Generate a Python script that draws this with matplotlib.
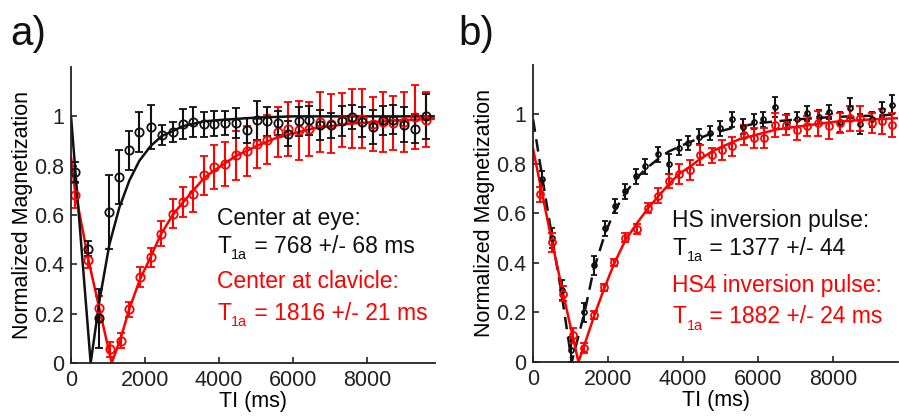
import matplotlib
matplotlib.use("Agg")
import matplotlib.pyplot as plt

# -----------------------------
# STYLE
# -----------------------------
plt.rcParams["font.family"] = ["Liberation Sans", "DejaVu Sans"]

RED = "#ff0000"
BLACK = "#111111"

# -----------------------------
# DATA
# -----------------------------
# panel a) - center at eye (black)
a_eye_ti = [110, 470, 766, 1036, 1306, 1577, 1847, 2153, 2450, 2748, 3018, 3306,
            3595, 3865, 4162, 4459, 4748, 5018, 5306, 5604, 5874, 6171, 6441, 6730,
            7018, 7315, 7586, 7856, 8153, 8423, 8712, 9000, 9297, 9586]
a_eye_m = [0.775, 0.464, 0.181, 0.613, 0.754, 0.862, 0.937, 0.957, 0.923, 0.937, 0.970, 0.977,
           0.968, 0.970, 0.973, 0.973, 0.943, 0.984, 0.980, 0.973, 0.930, 0.980, 0.984, 0.964,
           0.964, 0.981, 0.997, 0.977, 0.957, 0.984, 0.987, 0.966, 0.950, 1.000]
a_eye_err = [0.04, 0.03, 0.12, 0.15, 0.11, 0.08, 0.08, 0.09, 0.04, 0.04, 0.06, 0.06,
             0.05, 0.05, 0.05, 0.06, 0.05, 0.08, 0.06, 0.05, 0.05, 0.06, 0.06, 0.06,
             0.05, 0.06, 0.05, 0.06, 0.07, 0.06, 0.06, 0.07, 0.06, 0.09]
a_eye_fit_ti = [0, 531, 766, 1036, 1306, 1577, 1847, 2153, 2450, 2748, 3018, 3306,
                3600, 4000, 4500, 5000, 6000, 7000, 8000, 9000, 9800]
a_eye_fit_m = [1.0, 0.0, 0.25, 0.48, 0.63, 0.74, 0.82, 0.88, 0.92, 0.94, 0.96, 0.97,
               0.98, 0.985, 0.99, 0.995, 1.0, 1.0, 1.0, 1.0, 1.0]

# panel a) - center at clavicle (red)
a_clav_ti = [108, 468, 766, 1054, 1342, 1577, 1865, 2153, 2423, 2748, 3018, 3306,
             3595, 3865, 4162, 4459, 4748, 5018, 5306, 5604, 5874, 6171, 6441, 6730,
             7018, 7315, 7586, 7856, 8153, 8423, 8712, 9000, 9297, 9586]
a_clav_m = [0.680, 0.417, 0.221, 0.055, 0.090, 0.217, 0.350, 0.428, 0.525, 0.606, 0.653, 0.684,
            0.761, 0.795, 0.806, 0.842, 0.860, 0.889, 0.906, 0.937, 0.950, 0.943, 0.950, 0.977,
            0.970, 0.984, 0.990, 0.990, 0.970, 0.977, 0.973, 0.977, 0.997, 0.987]
a_clav_err = [0.05, 0.03, 0.05, 0.03, 0.03, 0.03, 0.04, 0.04, 0.05, 0.06, 0.06, 0.07,
              0.08, 0.09, 0.09, 0.10, 0.10, 0.10, 0.10, 0.10, 0.11, 0.12, 0.11, 0.12,
              0.12, 0.11, 0.12, 0.12, 0.11, 0.12, 0.11, 0.12, 0.13, 0.11]
a_clav_fit_ti = [0, 108, 468, 766, 1099, 1342, 1577, 1865, 2153, 2423, 2748, 3018, 3306,
                 3595, 3865, 4162, 4459, 4748, 5018, 5500, 6000, 6500, 7000, 7500, 8000,
                 8500, 9000, 9800]
a_clav_fit_m = [0.835, 0.70, 0.42, 0.22, 0.0, 0.10, 0.22, 0.34, 0.43, 0.52, 0.60, 0.65, 0.70,
                0.75, 0.78, 0.81, 0.84, 0.86, 0.88, 0.91, 0.93, 0.95, 0.96, 0.97, 0.975,
                0.98, 0.985, 0.99]

# panel b) - HS inversion pulse (black, dashed fit)
b_hs_ti = [230, 500, 765, 1000, 1370, 1610, 1920, 2170, 2450, 2740, 2990, 3330,
           3610, 3890, 4140, 4410, 4720, 4990, 5300, 5600, 5880, 6140, 6450, 6770,
           7030, 7300, 7610, 7880, 8190, 8450, 8720, 9030, 9300, 9570]
b_hs_m = [0.74, 0.50, 0.29, 0.05, 0.20, 0.39, 0.54, 0.63, 0.69, 0.75, 0.79, 0.84,
          0.80, 0.865, 0.885, 0.91, 0.925, 0.945, 0.98, 0.95, 0.97, 0.98, 1.03, 0.97,
          0.98, 1.005, 0.99, 1.01, 0.97, 1.025, 0.96, 0.98, 1.02, 1.04]
b_hs_err = [0.03, 0.04, 0.04, 0.05, 0.04, 0.04, 0.03, 0.03, 0.03, 0.03, 0.03, 0.03,
            0.04, 0.03, 0.03, 0.03, 0.03, 0.03, 0.03, 0.03, 0.03, 0.03, 0.04, 0.03,
            0.03, 0.03, 0.03, 0.03, 0.04, 0.04, 0.04, 0.03, 0.03, 0.04]
b_hs_fit_ti = [0, 250, 500, 765, 1030, 1370, 1610, 1920, 2170, 2450, 2740, 3000, 3330,
               3610, 3890, 4200, 4700, 5300, 6000, 7000, 8000, 9000, 9750]
b_hs_fit_m = [0.98, 0.74, 0.51, 0.27, 0.0, 0.20, 0.37, 0.52, 0.61, 0.68, 0.74, 0.78, 0.82,
              0.85, 0.87, 0.89, 0.92, 0.945, 0.965, 0.98, 0.99, 0.995, 1.0]

# panel b) - HS4 inversion pulse (red, solid fit)
b_hs4_ti = [187, 498, 809, 1076, 1369, 1636, 1902, 2169, 2453, 2765, 3058, 3342,
            3627, 3893, 4187, 4453, 4765, 5032, 5299, 5609, 5876, 6142, 6453, 6747,
            7032, 7299, 7582, 7876, 8169, 8436, 8720, 9032, 9299, 9565]
b_hs4_m = [0.677, 0.483, 0.276, 0.108, 0.055, 0.189, 0.302, 0.403, 0.503, 0.537, 0.621, 0.671,
           0.731, 0.760, 0.775, 0.835, 0.835, 0.858, 0.871, 0.918, 0.905, 0.905, 0.958, 0.958,
           0.938, 0.952, 0.965, 0.952, 0.965, 0.985, 0.985, 0.965, 0.972, 0.958]
b_hs4_err = [0.03, 0.04, 0.03, 0.03, 0.02, 0.015, 0.015, 0.015, 0.02, 0.02, 0.02, 0.03,
             0.03, 0.04, 0.04, 0.04, 0.03, 0.04, 0.04, 0.04, 0.04, 0.04, 0.05, 0.04,
             0.04, 0.04, 0.05, 0.05, 0.04, 0.05, 0.05, 0.04, 0.05, 0.05]
b_hs4_fit_ti = [0, 187, 498, 809, 1076, 1209, 1369, 1636, 1902, 2169, 2453, 2765, 3058,
                3342, 3627, 3893, 4187, 4453, 4765, 5032, 5500, 6000, 6500, 7000, 7500,
                8000, 8500, 9000, 9700]
b_hs4_fit_m = [0.86, 0.72, 0.49, 0.27, 0.09, 0.0, 0.07, 0.19, 0.30, 0.40, 0.49, 0.56, 0.62,
               0.67, 0.72, 0.76, 0.79, 0.82, 0.85, 0.87, 0.90, 0.92, 0.94, 0.95, 0.96,
               0.97, 0.975, 0.98, 0.985]

Y_TICKS = [0, 0.2, 0.4, 0.6, 0.8, 1]
Y_TICK_LABELS = ["0", "0.2", "0.4", "0.6", "0.8", "1"]
X_TICKS = [0, 2000, 4000, 6000, 8000]

# -----------------------------
# FIGURE
# -----------------------------
fig = plt.figure(figsize=(8.99, 4.18), dpi=100)
ax_a = fig.add_axes([0.079, 0.1316, 0.405, 0.708])
ax_b = fig.add_axes([0.593, 0.134, 0.406, 0.7105])


def style_axes(ax, xmax, ylab_x):
    ax.set_xlim(0, xmax)
    ax.set_ylim(0, 1.2)
    ax.set_xticks(X_TICKS)
    ax.set_xticklabels([str(t) for t in X_TICKS])
    ax.set_yticks(Y_TICKS)
    ax.set_yticklabels(Y_TICK_LABELS)
    ax.spines["top"].set_visible(False)
    ax.spines["right"].set_visible(False)
    for s in ("left", "bottom"):
        ax.spines[s].set_linewidth(1.3)
        ax.spines[s].set_color("#222222")
    ax.tick_params(direction="in", length=4, width=1.2, labelsize=15.5,
                   colors="#222222", labelcolor="#222222")
    ax.tick_params(axis="x", pad=5)
    ax.tick_params(axis="y", pad=5)
    ax.set_xlabel("TI (ms)", fontsize=15.5, labelpad=0)
    ax.set_ylabel("Normalized Magnetization", fontsize=15.5)
    ax.yaxis.set_label_coords(ylab_x, 0.5)


def draw_series(ax, ti, m, err, fit_ti, fit_m, color, ms, cap, dashed=False):
    line, = ax.plot(fit_ti, fit_m, color=color, lw=1.8)
    if dashed:
        line.set_dashes((5, 3))
    ax.errorbar(ti, m, yerr=err, fmt="o", color=color, mfc="none", mec=color,
                ms=ms, mew=1.3, elinewidth=1.5, capsize=cap, capthick=1.5)


def t1a_line(ax, x, y, rest, color, size=16.5):
    # "T" + lowered small "1a" + rest of the line
    ax.text(x, y, "T", transform=ax.transAxes, fontsize=size, color=color)
    ax.annotate("1a", xy=(x, y), xycoords=ax.transAxes, xytext=(0.62 * size, -4.5),
                textcoords="offset points", fontsize=size * 0.62, color=color)
    ax.annotate(rest, xy=(x, y), xycoords=ax.transAxes,
                xytext=(0.62 * size + 1.15 * 0.62 * size, 0),
                textcoords="offset points", fontsize=size, color=color)


# panel a
draw_series(ax_a, a_clav_ti, a_clav_m, a_clav_err, a_clav_fit_ti, a_clav_fit_m, RED, 6, 3.2)
draw_series(ax_a, a_eye_ti, a_eye_m, a_eye_err, a_eye_fit_ti, a_eye_fit_m, BLACK, 6, 3.2)
style_axes(ax_a, 9840, -0.105)

# panel b
draw_series(ax_b, b_hs_ti, b_hs_m, b_hs_err, b_hs_fit_ti, b_hs_fit_m, BLACK, 3.5, 2.5, dashed=True)
draw_series(ax_b, b_hs4_ti, b_hs4_m, b_hs4_err, b_hs4_fit_ti, b_hs4_fit_m, RED, 5, 3.2)
style_axes(ax_b, 9730, -0.105)

# annotations
TXT = 16.5
ax_a.text(0.401, 0.466, "Center at eye:", transform=ax_a.transAxes, fontsize=TXT, color=BLACK)
t1a_line(ax_a, 0.401, 0.373, " = 768 +/- 68 ms", BLACK)
ax_a.text(0.401, 0.252, "Center at clavicle:", transform=ax_a.transAxes, fontsize=TXT, color=RED)
t1a_line(ax_a, 0.401, 0.145, " = 1816 +/- 21 ms", RED)

ax_b.text(0.381, 0.455, "HS inversion pulse:", transform=ax_b.transAxes, fontsize=TXT, color=BLACK)
t1a_line(ax_b, 0.381, 0.360, " = 1377 +/- 44", BLACK)
ax_b.text(0.381, 0.237, "HS4 inversion pulse:", transform=ax_b.transAxes, fontsize=TXT, color=RED)
t1a_line(ax_b, 0.381, 0.130, " = 1882 +/- 24 ms", RED)

# panel letters
fig.text(10 / 899, 1 - 45 / 418, "a)", fontsize=29, color=BLACK)
fig.text(458 / 899, 1 - 45 / 418, "b)", fontsize=29, color=BLACK)

fig.savefig("out.png", dpi=100)
